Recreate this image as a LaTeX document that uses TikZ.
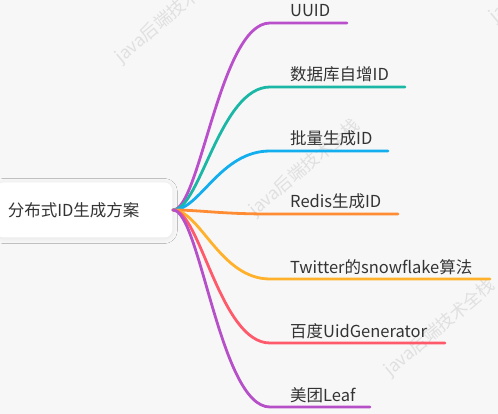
\documentclass[tikz,border=0pt]{standalone}
\usepackage{fontspec}
\setmainfont{Noto Sans CJK SC}
\usetikzlibrary{shadows.blur}
\definecolor{bgc}{HTML}{F7F7F7}
\definecolor{txt}{HTML}{333333}
\definecolor{wm}{HTML}{E0E0E0}
\definecolor{cA}{HTML}{BA4FCB}
\definecolor{cB}{HTML}{1BB7A6}
\definecolor{cC}{HTML}{12AEEE}
\definecolor{cD}{HTML}{FF8C33}
\definecolor{cE}{HTML}{FFB12C}
\definecolor{cF}{HTML}{FF5A6C}
\definecolor{cG}{HTML}{B650C8}
\tikzset{
  branch/.style={line width=2.8pt, line cap=round},
  leaf/.style={anchor=base west, inner sep=0pt, text=txt, font=\fontsize{16.5}{19}\selectfont},
  wmark/.style={rotate=40, text=wm, font=\fontsize{17.5}{20}\selectfont, inner sep=0pt},
  rootbox/.style={fill=white, rounded corners=8pt, minimum height=55pt, text width=152.5pt, inner xsep=12pt, align=left, text=txt, font=\fontsize{16.5}{19}\selectfont, blur shadow={shadow blur steps=10, shadow xshift=0pt, shadow yshift=-1pt, shadow opacity=7, shadow blur radius=5pt}}
}
\begin{document}
\begin{tikzpicture}[x=1pt,y=-1pt]
\useasboundingbox (0,0) rectangle (498,414);
\clip (0,0) rectangle (498,414);
\fill[bgc] (0,0) rectangle (498,414);
% watermarks
\node[wmark] (w1) at (171,15) {java后端技术全栈};
\node[wmark] (w2) at (305,168) {java后端技术全栈};
\node[wmark] (w3) at (440,328) {java后端技术全栈};
\node[wmark] (w4) at (545,-26) {java后端技术全栈};
% root
\node[rootbox, anchor=east] (root) at (172.5,210) {分布式ID生成方案};
\coordinate (j) at (173,210);
% branches
\foreach \n/\y/\e/\c/\t in {
  a/23/347/cA/UUID,
  b/87/405/cB/数据库自增ID,
  c/151/388/cC/批量生成ID,
  d/214/398/cD/Redis生成ID,
  e/279/490/cE/Twitter的snowflake算法,
  f/343/445/cF/百度UidGenerator,
  g/407/370/cG/美团Leaf}{
  \coordinate (s\n) at (270,\y);
  \coordinate (e\n) at (\e,\y);
  \node[leaf] (l\n) at (290,\y-6) {\t};
  \draw[branch, draw=\c] (j) .. controls (200,210) and (220,\y) .. (s\n) -- (e\n);
}
\end{tikzpicture}
\end{document}
